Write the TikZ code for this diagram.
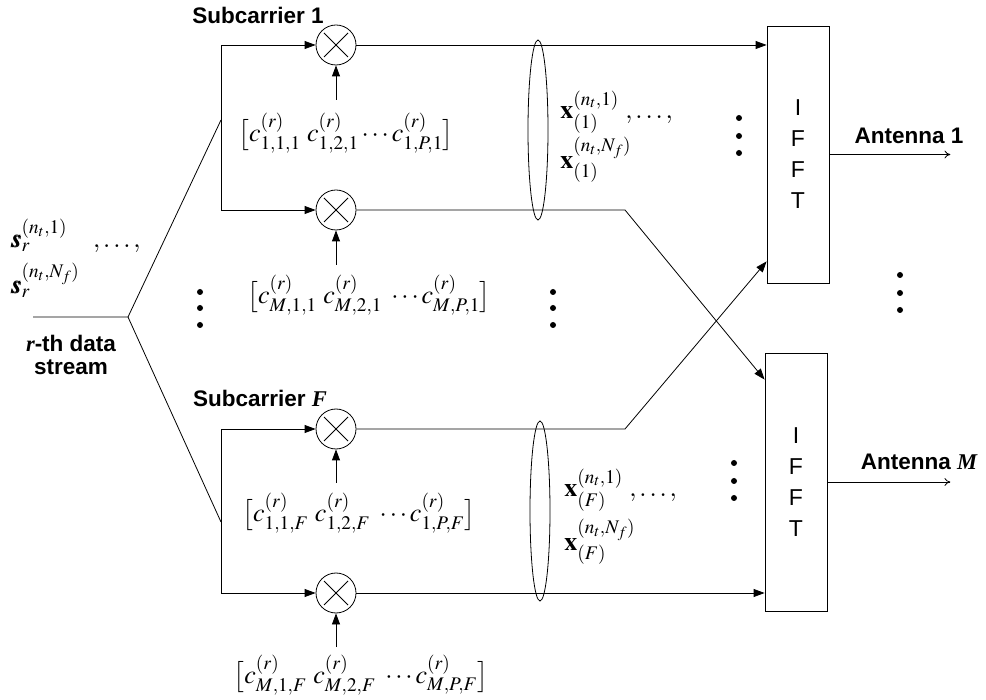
\documentclass[tikz,border=0pt]{standalone}
\usepackage{amsmath}
\usepackage{mathptmx}
\usepackage{bm}
\usepackage{fontspec}
\setmainfont{Liberation Serif}
\setsansfont{Liberation Sans}
\usetikzlibrary{arrows.meta,shapes.geometric,calc}
\begin{document}
\begin{tikzpicture}[x=1pt,y=-1pt,line width=0.8pt,
  mult/.style={circle,draw,minimum size=40pt,inner sep=0pt},
  lbl/.style={font=\sffamily\bfseries\fontsize{22.5}{23}\selectfont},
  mth/.style={font=\fontsize{26}{30}\selectfont,inner sep=0pt},
  fft/.style={draw,minimum width=62pt,inner sep=0pt,align=center,font=\sffamily\fontsize{23}{31}\selectfont},
  arr/.style={-{Triangle[length=11pt,width=8pt]}},
  oarr/.style={-{To[length=6pt,width=8pt]}},
  elli/.style={ellipse,draw,minimum width=20pt,minimum height=180pt,inner sep=0pt}]
\useasboundingbox (0,0) rectangle (986,700);
% multipliers
\node[mult] (m1) at (336,45) {};
\node[mult] (m2) at (336,210) {};
\node[mult] (m3) at (336,429) {};
\node[mult] (m4) at (336,593) {};
\foreach \m in {m1,m2,m3,m4}{
  \draw ([shift={(-12,-12)}]\m.center) -- ([shift={(12,12)}]\m.center);
  \draw ([shift={(-12,12)}]\m.center) -- ([shift={(12,-12)}]\m.center);
}
% IFFT boxes
\node[fft,minimum height=257pt] (f1) at (798,154.5) {I\\F\\F\\T};
\node[fft,minimum height=258pt] (f2) at (796,482) {I\\F\\F\\T};
% ellipses
\node[elli] (el1) at (538,130) {};
\node[elli] (el2) at (540,511) {};
% input fan
\coordinate (jin) at (33,317);
\coordinate (j0) at (128,317);
\coordinate (j1) at (221,120);
\coordinate (j2) at (221,522);
\draw (jin) -- (j0) -- (j1);
\draw (j0) -- (j2);
\draw[arr] (j1) |- (m1.west);
\draw[arr] (j1) |- (m2.west);
\draw[arr] (j2) |- (m3.west);
\draw[arr] (j2) |- (m4.west);
% coefficient vectors
\node[mth] (v1) at (346,133) {$\big[c^{(r)}_{1,1,1}\ c^{(r)}_{1,2,1}\cdots c^{(r)}_{1,P,1}\big]$};
\node[mth] (v2) at (369,295) {$\big[c^{(r)}_{M,1,1}\ c^{(r)}_{M,2,1}\ \cdots c^{(r)}_{M,P,1}\big]$};
\node[mth] (v3) at (359,513) {$\big[c^{(r)}_{1,1,F}\ c^{(r)}_{1,2,F}\ \cdots c^{(r)}_{1,P,F}\big]$};
\node[mth] (v4) at (361,675) {$\big[c^{(r)}_{M,1,F}\ c^{(r)}_{M,2,F}\ \cdots c^{(r)}_{M,P,F}\big]$};
\coordinate (a1) at (336,100);
\coordinate (a2) at (336,265);
\coordinate (a3) at (336,483);
\coordinate (a4) at (336,647);
\draw[arr] (a1) -- (m1.south);
\draw[arr] (a2) -- (m2.south);
\draw[arr] (a3) -- (m3.south);
\draw[arr] (a4) -- (m4.south);
% outputs
\coordinate (k2) at (625,210);
\coordinate (k3) at (625,429);
\coordinate (e2) at ($(f2.north west)+(0,27)$);
\coordinate (e3) at ($(f1.south west)+(0,-22)$);
\draw[arr] (m1.east) -- (f1.west |- m1);
\draw[arr] (m2.east) -- (k2) -- (e2);
\draw[arr] (m3.east) -- (k3) -- (e3);
\draw[arr] (m4.east) -- (f2.west |- m4);
\draw[oarr] (f1.east) -- ++(121,0);
\draw[oarr] (f2.east) -- ++(123,0);
% labels
\node[lbl] (sc1) at (258,15) {Subcarrier 1};
\node[lbl] (scF) at (260,398) {Subcarrier {\rmfamily\itshape F}};
\node[lbl] (an1) at (909,136) {Antenna 1};
\node[lbl] (anM) at (919,462) {Antenna {\rmfamily\itshape M}};
\node[lbl,align=center] (rth) at (71,355) {{\rmfamily\itshape r}-th data\\stream};
\node[mth,anchor=west] (s1) at (10,236) {$\bm{s}_r^{(n_t,1)}\quad,\ldots,$};
\node[mth,anchor=west] (s2) at (10,280) {$\bm{s}_r^{(n_t,N_f)}$};
\node[mth,anchor=west] (x1) at (560,112) {$\mathbf{x}^{(n_t,1)}_{(1)}\ ,\ldots,$};
\node[mth,anchor=west] (x2) at (560,160) {$\mathbf{x}^{(n_t,N_f)}_{(1)}$};
\node[mth,anchor=west] (x3) at (564,490) {$\mathbf{x}^{(n_t,1)}_{(F)}\ ,\ldots,$};
\node[mth,anchor=west] (x4) at (564,542) {$\mathbf{x}^{(n_t,N_f)}_{(F)}$};
% dots
\foreach \x/\y in {200/292,200/308,200/325, 553/292,553/308,553/325,
  739/118,739/136,739/153, 734/463,734/481,734/498, 900/275,900/293,900/310}
  \fill (\x,\y) circle (3pt);
\end{tikzpicture}
\end{document}
